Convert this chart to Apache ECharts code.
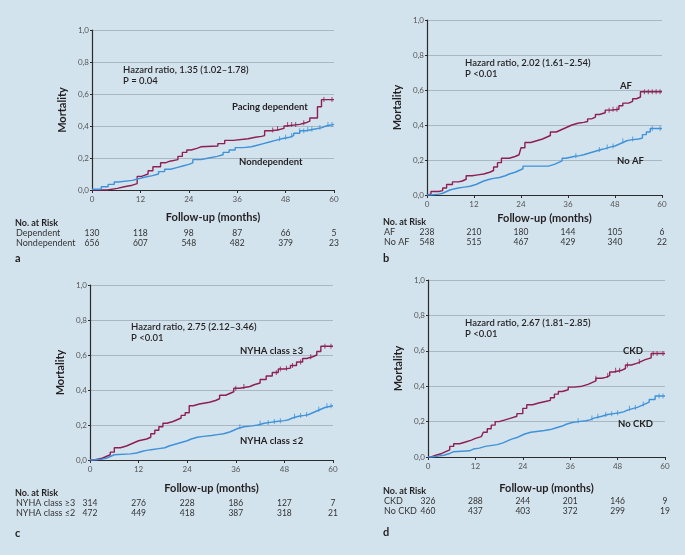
<!DOCTYPE html>
<html>
<head>
<meta charset="utf-8">
<script src="https://cdn.jsdelivr.net/npm/echarts@6/dist/echarts.min.js"></script>
</head>
<body style="margin:0;background:#d3e3ee">
<div id="main" style="width:685px;height:555px"></div>
<script>
// shared
var riskTimes = [0, 12, 24, 36, 48, 60];

// a: pacing dependence
var pacingDep = [[0,0],[3.8,0.01],[6.3,0.02],[8,0.03],[10,0.04],[11.2,0.085],[12.3,0.09],[12.8,0.10],[13.9,0.12],[15.1,0.145],[17,0.17],[18.2,0.18],[19.3,0.19],[21.3,0.21],[22.4,0.235],[23.5,0.25],[24.6,0.26],[26,0.27],[27,0.275],[31.2,0.29],[32.9,0.31],[35,0.32],[38.7,0.33],[40.5,0.335],[42,0.34],[42.8,0.37],[44.5,0.375],[46,0.385],[47.6,0.40],[48.2,0.41],[51.5,0.42],[53,0.43],[54,0.45],[55.9,0.52],[56.9,0.565],[60,0.565]];
var pacingDepCens = [44.8, 46, 48.5, 49.5, 50.5, 52.5, 57.5, 59.5];
var nonDep = [[0,0.005],[2.3,0.02],[4,0.035],[5.5,0.05],[6.5,0.06],[10,0.07],[11.5,0.08],[13,0.09],[15,0.10],[16.5,0.115],[18,0.13],[19.5,0.14],[21,0.15],[22.5,0.16],[24,0.17],[25,0.19],[27,0.20],[29,0.21],[31,0.22],[32.5,0.235],[34,0.25],[35.5,0.265],[37.5,0.27],[39.5,0.28],[41,0.29],[42.5,0.30],[44,0.31],[45.5,0.32],[47,0.33],[49,0.34],[50,0.355],[51.5,0.37],[53,0.38],[55,0.39],[57,0.40],[58,0.41],[60,0.41]];
var nonDepCens = [46.5, 48, 49.5, 51.5, 52.5, 53.5, 54.5, 56.5, 58.5, 59.5];
var riskDep = [130, 118, 98, 87, 66, 5];
var riskNonDep = [656, 607, 548, 482, 379, 23];

// b: atrial fibrillation
var af = [[0,0],[0.5,0.005],[1,0.02],[3,0.025],[4,0.04],[5,0.06],[6.5,0.075],[8,0.08],[9,0.09],[10,0.11],[11.5,0.115],[13,0.12],[14.5,0.13],[16,0.14],[17,0.16],[18,0.185],[19,0.21],[21,0.22],[22.5,0.23],[23.5,0.24],[24,0.27],[25,0.30],[26.5,0.31],[28,0.32],[29.5,0.33],[30.5,0.34],[31.5,0.36],[33,0.37],[34,0.38],[35,0.39],[36,0.40],[37,0.41],[38.5,0.415],[40,0.42],[41,0.435],[42,0.445],[43,0.46],[44,0.47],[45.5,0.485],[47,0.49],[49,0.51],[50,0.525],[51.5,0.535],[52.5,0.55],[53.5,0.56],[54.5,0.59],[60,0.59]];
var afCens = [46.5, 47.5, 48.5, 55.5, 56.5, 57.5, 58.5, 59.5];
var noAf = [[0,0],[1,0.005],[3,0.01],[4,0.02],[5,0.03],[6,0.04],[8,0.045],[9.5,0.05],[11,0.06],[12.5,0.07],[13.5,0.08],[14.5,0.09],[16,0.095],[17,0.10],[18.5,0.11],[20,0.12],[21,0.13],[22.5,0.14],[23.5,0.15],[24.5,0.165],[31,0.175],[32.5,0.185],[33.5,0.195],[34.5,0.21],[35.5,0.22],[37.5,0.225],[39,0.23],[40,0.24],[41.5,0.25],[43,0.26],[44.5,0.265],[45.5,0.275],[47,0.28],[48,0.29],[49,0.30],[50,0.31],[51,0.315],[52,0.32],[54,0.325],[55,0.345],[56,0.36],[57,0.38],[60,0.38]];
var noAfCens = [38, 44, 46, 47.5, 50, 52.5, 57.5, 59.5];
var riskAf = [238, 210, 180, 144, 105, 6];
var riskNoAf = [548, 515, 467, 429, 340, 22];

// c: NYHA class
var nyhaHigh = [[0,0],[1,0.01],[3,0.02],[4,0.03],[5,0.045],[6,0.07],[7.5,0.08],[9,0.09],[10,0.10],[11,0.11],[12,0.12],[14,0.13],[15,0.15],[16,0.17],[17,0.19],[18,0.21],[19,0.22],[20.5,0.23],[21.5,0.24],[22.5,0.255],[23.5,0.27],[24.5,0.31],[25.5,0.32],[27,0.33],[29.5,0.34],[31,0.35],[32,0.37],[33.5,0.38],[34.5,0.39],[35.5,0.41],[37,0.42],[39.5,0.43],[40.5,0.44],[42,0.46],[43.5,0.48],[45,0.50],[46.5,0.52],[48,0.525],[49.5,0.54],[51,0.56],[52.5,0.58],[53.5,0.59],[55,0.60],[56,0.62],[57,0.65],[60,0.65]];
var nyhaHighCens = [36, 38, 46, 47, 48.5, 50, 52, 54.5, 58, 59.5];
var nyhaLow = [[0,0],[1,0.005],[3,0.01],[4,0.02],[5,0.03],[6,0.035],[10,0.04],[11.5,0.05],[13,0.055],[14,0.06],[15.5,0.065],[17,0.07],[18.5,0.08],[19.5,0.09],[21,0.10],[22.5,0.11],[24,0.12],[25,0.13],[26.5,0.135],[28,0.14],[30,0.145],[31.5,0.15],[33,0.16],[34.5,0.17],[35.5,0.18],[36.5,0.19],[38,0.195],[40,0.20],[41.5,0.21],[43,0.215],[44.5,0.22],[46,0.225],[48,0.23],[49,0.24],[50,0.25],[51.5,0.255],[53,0.26],[54,0.27],[55,0.28],[56,0.29],[57,0.30],[58,0.31],[60,0.31]];
var nyhaLowCens = [37, 42, 44, 45.5, 47, 50.5, 52, 53.5, 56.5, 58.5, 59.5];
var riskNyhaHigh = [314, 276, 228, 186, 127, 7];
var riskNyhaLow = [472, 449, 418, 387, 318, 21];

// d: chronic kidney disease
var ckd = [[0,0],[0.8,0.01],[2,0.02],[3.5,0.03],[4.5,0.04],[5.5,0.06],[6.5,0.075],[8,0.085],[9.5,0.095],[11,0.105],[12,0.115],[13.5,0.12],[14,0.14],[15,0.16],[16,0.18],[17,0.20],[18,0.21],[19.5,0.22],[21,0.23],[22.5,0.245],[24,0.275],[25,0.295],[26.5,0.305],[28,0.315],[30,0.32],[31,0.335],[32,0.355],[33,0.37],[34,0.38],[35.5,0.395],[37,0.40],[39,0.41],[40.5,0.42],[41.5,0.43],[42.5,0.445],[44,0.45],[45,0.46],[46,0.48],[47,0.49],[49,0.50],[50,0.52],[51.5,0.53],[53,0.54],[54,0.55],[55,0.56],[56.5,0.585],[60,0.585]];
var ckdCens = [42.5, 45.5, 47.5, 48.5, 50.5, 53.5, 57, 58, 59.5];
var noCkd = [[0,0],[1,0.005],[2.5,0.01],[4,0.02],[5.5,0.03],[6.5,0.035],[10.5,0.045],[11.5,0.05],[13,0.06],[14.5,0.07],[17.5,0.08],[19,0.09],[20,0.10],[21,0.11],[22.5,0.12],[23.5,0.13],[24.5,0.14],[26,0.15],[29.5,0.155],[31,0.165],[32.5,0.175],[34,0.185],[35,0.195],[36.5,0.20],[38,0.205],[40,0.21],[41,0.22],[42,0.23],[44,0.24],[45.5,0.245],[47,0.25],[48.5,0.255],[49.5,0.265],[50.5,0.275],[52,0.28],[53,0.29],[54,0.30],[55,0.31],[56,0.325],[57.5,0.345],[60,0.345]];
var noCkdCens = [38, 41.5, 43, 45, 46.5, 48, 51, 52.5, 54.5, 58.5, 59.5];
var riskCkd = [326, 288, 244, 201, 146, 9];
var riskNoCkd = [460, 437, 403, 372, 299, 19];

var RED = '#8e1f50', BLUE = '#3f92d8', INK = '#231f20', FONT = 'Lato';

var panels = [
  { grid: {left: 92, top: 30, width: 242, height: 160}, xGap: 22, letter: 'a', letterPos: [15, 258],
    hr: ['Hazard ratio, 1.35 (1.02\u20131.78)', 'P = 0.04'], hrPos: [123, 70],
    curves: [
      {name: 'Pacing dependent', data: pacingDep, cens: pacingDepCens, color: RED, lab: [232, 107], risk: riskDep, rowName: 'Dependent'},
      {name: 'Nondependent', data: nonDep, cens: nonDepCens, color: BLUE, lab: [239, 162], risk: riskNonDep, rowName: 'Nondependent'}
    ], tablePos: [15, 223]},
  { grid: {left: 427, top: 20, width: 235, height: 175}, xGap: 18, letter: 'b', letterPos: [383, 258],
    hr: ['Hazard ratio, 2.02 (1.61\u20132.54)', 'P <0.01'], hrPos: [465, 63],
    curves: [
      {name: 'AF', data: af, cens: afCens, color: RED, lab: [620, 86], risk: riskAf, rowName: 'AF'},
      {name: 'No AF', data: noAf, cens: noAfCens, color: BLUE, lab: [617, 161], risk: riskNoAf, rowName: 'No AF'}
    ], tablePos: [383, 222]},
  { grid: {left: 90, top: 285, width: 243, height: 175}, xGap: 23, letter: 'c', letterPos: [15, 533],
    hr: ['Hazard ratio, 2.75 (2.12\u20133.46)', 'P <0.01'], hrPos: [131, 327],
    curves: [
      {name: 'NYHA class \u22653', data: nyhaHigh, cens: nyhaHighCens, color: RED, lab: [240, 351], risk: riskNyhaHigh, rowName: 'NYHA class \u22653'},
      {name: 'NYHA class \u22642', data: nyhaLow, cens: nyhaLowCens, color: BLUE, lab: [240, 441], risk: riskNyhaLow, rowName: 'NYHA class \u22642'}
    ], tablePos: [15, 493]},
  { grid: {left: 428, top: 280, width: 237, height: 177}, xGap: 26, letter: 'd', letterPos: [383, 532],
    hr: ['Hazard ratio, 2.67 (1.81\u20132.85)', 'P <0.01'], hrPos: [465, 323],
    curves: [
      {name: 'CKD', data: ckd, cens: ckdCens, color: RED, lab: [623, 351], risk: riskCkd, rowName: 'CKD'},
      {name: 'No CKD', data: noCkd, cens: noCkdCens, color: BLUE, lab: [618, 424], risk: riskNoCkd, rowName: 'No CKD'}
    ], tablePos: [383, 491]}
];

// value of a step curve at time t
function stepAt(data, t) {
  var v = data[0][1];
  for (var i = 0; i < data.length; i++) if (data[i][0] <= t) v = data[i][1];
  return v;
}

var grids = [], xAxes = [], yAxes = [], series = [], graphics = [];
function txt(x, y, text, size, weight, align, color) {
  graphics.push({type: 'text', x: x, y: y, silent: true, style: {
    text: text, font: (weight || 'normal') + ' ' + size + 'px ' + FONT,
    fill: color || INK, textAlign: align || 'left', textVerticalAlign: 'middle'}});
}

panels.forEach(function (p, i) {
  grids.push(p.grid);
  xAxes.push({type: 'value', gridIndex: i, min: 0, max: 60, interval: 12,
    name: 'Follow-up (months)', nameLocation: 'middle', nameGap: p.xGap,
    nameTextStyle: {fontFamily: FONT, fontSize: 11, fontWeight: 'bold', color: INK},
    axisLine: {lineStyle: {color: '#2b2b2b', width: 1.2}},
    axisTick: {length: 3, lineStyle: {color: '#2b2b2b'}},
    axisLabel: {fontFamily: FONT, fontSize: 8, color: '#555', margin: 5},
    splitLine: {show: false}});
  yAxes.push({type: 'value', gridIndex: i, min: 0, max: 1, interval: 0.2,
    name: 'Mortality', nameLocation: 'middle', nameGap: 24, nameRotate: 90,
    nameTextStyle: {fontFamily: FONT, fontSize: 11, fontWeight: 'bold', color: INK},
    axisLine: {show: true, lineStyle: {color: '#2b2b2b', width: 1.2}},
    axisTick: {show: true, length: 2, lineStyle: {color: '#2b2b2b'}},
    axisLabel: {fontFamily: FONT, fontSize: 8, color: '#555', margin: 3,
      formatter: function (v) { return v.toFixed(1).replace('.', ','); }},
    splitLine: {lineStyle: {color: '#a9b7c2', width: 1}}});
  p.curves.forEach(function (c) {
    series.push({type: 'line', xAxisIndex: i, yAxisIndex: i, step: 'end', data: c.data,
      symbol: 'none', lineStyle: {color: c.color, width: 1.4}, silent: true, z: 3});
    series.push({type: 'scatter', xAxisIndex: i, yAxisIndex: i, silent: true, z: 4,
      data: c.cens.map(function (t) { return [t, stepAt(c.data, t)]; }),
      symbol: 'rect', symbolSize: [1, 5], itemStyle: {color: c.color}});
    txt(c.lab[0], c.lab[1], c.name, 9.5, 'bold');
  });
  txt(p.hrPos[0], p.hrPos[1], p.hr[0], 9.5, '600');
  txt(p.hrPos[0], p.hrPos[1] + 11, p.hr[1], 9.5, '600');
  txt(p.letterPos[0], p.letterPos[1], p.letter, 11, 'bold');
  txt(p.tablePos[0], p.tablePos[1], 'No. at Risk', 9, 'bold');
});

var chart = echarts.init(document.getElementById('main'));
var option = {
  backgroundColor: '#d3e3ee',
  animation: false,
  grid: grids, xAxis: xAxes, yAxis: yAxes, series: series
};
chart.setOption(option);

// number-at-risk table, placed under the x-axis ticks
panels.forEach(function (p, i) {
  p.curves.forEach(function (c, r) {
    var y = p.tablePos[1] + 10 * (r + 1);
    txt(p.tablePos[0] + 1, y, c.rowName, 9, 'normal', 'left', '#333');
    c.risk.forEach(function (n, k) {
      var px = chart.convertToPixel({xAxisIndex: i}, riskTimes[k]);
      txt(px, y, String(n), 8.5, 'normal', 'center', '#333');
    });
  });
});
chart.setOption({graphic: graphics});
</script>
</body>
</html>
